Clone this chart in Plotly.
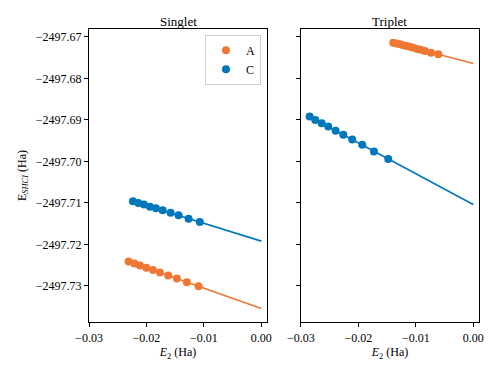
import numpy as np
import plotly.graph_objects as go
from plotly.subplots import make_subplots

BLUE = "#0077BB"
ORANGE = "#EE7733"
FAMILY = "Liberation Serif, DejaVu Serif, serif"
FONT = dict(family=FAMILY, color="black", size=12)

# Singlet
singlet_A_x = [-0.0231, -0.0221, -0.02113, -0.02002, -0.01887, -0.01765, -0.01619, -0.0147, -0.01296, -0.01092]
singlet_A_y = [-2497.7241, -2497.7246, -2497.7251, -2497.7256, -2497.7262, -2497.7268, -2497.7275, -2497.7282, -2497.7291, -2497.7301]
singlet_C_x = [-0.02235, -0.02141, -0.02043, -0.01939, -0.01835, -0.01718, -0.01579, -0.0144, -0.01266, -0.0107]
singlet_C_y = [-2497.7096, -2497.7100, -2497.7104, -2497.7109, -2497.7113, -2497.7118, -2497.7124, -2497.7130, -2497.7138, -2497.7146]

# Triplet
triplet_A_x = [-0.01393, -0.01334, -0.01276, -0.01219, -0.0116, -0.01102, -0.01045, -0.00975, -0.00916, -0.00841, -0.00736, -0.00609]
triplet_A_y = [-2497.6714, -2497.6716, -2497.6718, -2497.6720, -2497.6722, -2497.6724, -2497.6726, -2497.6729, -2497.6731, -2497.6734, -2497.6738, -2497.6742]
triplet_C_x = [-0.02849, -0.02751, -0.0264, -0.02525, -0.02396, -0.02263, -0.02107, -0.01933, -0.01729, -0.0148]
triplet_C_y = [-2497.6892, -2497.6900, -2497.6908, -2497.6916, -2497.6926, -2497.6936, -2497.6947, -2497.6960, -2497.6976, -2497.6994]

x_ticks = [-0.03, -0.02, -0.01, 0.0]
y_ticks = [-2497.67, -2497.68, -2497.69, -2497.70, -2497.71, -2497.72, -2497.73]

fig = make_subplots(rows=1, cols=2, shared_yaxes=True, horizontal_spacing=0.087,
                    subplot_titles=("Singlet", "Triplet"))

panels = [
    (1, [("A", singlet_A_x, singlet_A_y, ORANGE), ("C", singlet_C_x, singlet_C_y, BLUE)]),
    (2, [("A", triplet_A_x, triplet_A_y, ORANGE), ("C", triplet_C_x, triplet_C_y, BLUE)]),
]

for col, series in panels:
    for name, xs, ys, color in series:
        # linear extrapolation to E2 = 0
        b, a = np.polyfit(xs, ys, 1)
        xl = np.array([min(xs), 0.0])
        fig.add_trace(go.Scatter(x=xl, y=a + b * xl, mode="lines",
                                 line=dict(color=color, width=1.6),
                                 showlegend=False, hoverinfo="skip"), row=1, col=col)
        fig.add_trace(go.Scatter(x=xs, y=ys, mode="markers", name=name,
                                 marker=dict(color=color, size=8),
                                 showlegend=(col == 1)), row=1, col=col)

axis_style = dict(showline=True, linecolor="black", linewidth=1.3, mirror=True,
                  ticks="outside", ticklen=4, tickwidth=1.2, tickcolor="black",
                  showgrid=False, zeroline=False, automargin=False,
                  tickfont=dict(family=FAMILY, size=12, color="black"))

fig.update_xaxes(range=[-0.03, 0.001], tickvals=x_ticks, tickformat=".2f",
                 title=dict(text="<i>E</i><sub>2</sub> (Ha)", standoff=4,
                            font=dict(family=FAMILY, size=12)), **axis_style)
fig.update_yaxes(range=[-2497.7387, -2497.6681], tickvals=y_ticks, tickformat=".2f", **axis_style)
fig.update_yaxes(title=dict(text="E<sub><i>SHCI</i></sub> (Ha)", standoff=6,
                            font=dict(family=FAMILY, size=12)), row=1, col=1)
fig.update_yaxes(showticklabels=False, row=1, col=2)

fig.update_annotations(font=dict(size=13, family=FAMILY, color="black"), yshift=-2)

# page body adds an 8px offset, so the figure is 8px smaller than the window
fig.update_layout(
    width=490, height=366,
    margin=dict(l=81, r=19, t=21, b=52),
    plot_bgcolor="white", paper_bgcolor="white",
    font=FONT,
    legend=dict(x=0.441, y=0.98, xanchor="right", yanchor="top",
                bgcolor="white", bordercolor="#d0d0d0", borderwidth=1,
                font=dict(family=FAMILY, size=12), itemwidth=30,
                tracegroupgap=0),
)

fig.write_html("out.html")
